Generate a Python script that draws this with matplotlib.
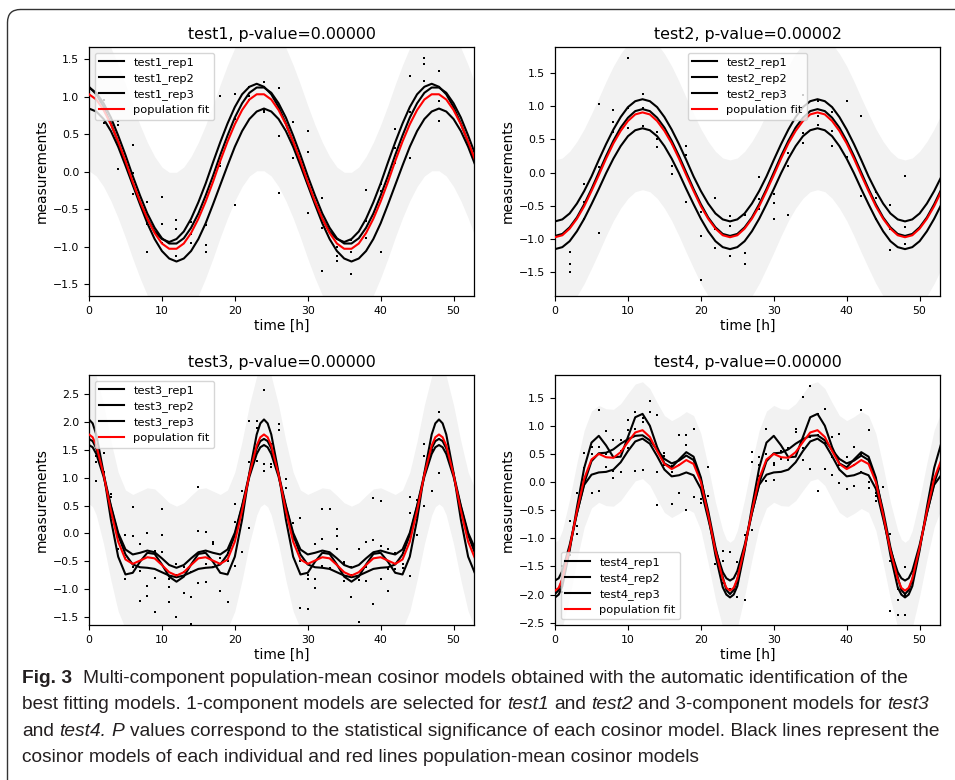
import numpy as np
import matplotlib
matplotlib.use('Agg')
import matplotlib.pyplot as plt
from matplotlib.patches import FancyBboxPatch
from matplotlib.transforms import IdentityTransform

hours = np.arange(54)
# test3/test4 have sharp peaks, so a few half hours are added around them
hours_fine = np.sort(np.concatenate([hours, [0.5, 23.5, 24.5, 47.5, 48.5]]))

# ---- test1 (1-component) ----
t1_rep1 = [1.13, 1.03, 0.86, 0.64, 0.39, 0.12, -0.16, -0.41, -0.63, -0.80, -0.90, -0.94,
           -0.90, -0.80, -0.63, -0.41, -0.16, 0.12, 0.39, 0.64, 0.86, 1.03, 1.13, 1.17,
           1.13, 1.03, 0.86, 0.64, 0.39, 0.12, -0.16, -0.41, -0.63, -0.80, -0.90, -0.94,
           -0.90, -0.80, -0.63, -0.41, -0.16, 0.12, 0.39, 0.64, 0.86, 1.03, 1.13, 1.17,
           1.13, 1.03, 0.86, 0.64, 0.39, 0.12]
t1_rep2 = [1.12, 1.05, 0.91, 0.72, 0.48, 0.22, -0.06, -0.32, -0.56, -0.75, -0.89, -0.96,
           -0.96, -0.89, -0.75, -0.56, -0.32, -0.06, 0.22, 0.48, 0.72, 0.91, 1.05, 1.12,
           1.12, 1.05, 0.91, 0.72, 0.48, 0.22, -0.06, -0.32, -0.56, -0.75, -0.89, -0.96,
           -0.96, -0.89, -0.75, -0.56, -0.32, -0.06, 0.22, 0.48, 0.72, 0.91, 1.05, 1.12,
           1.12, 1.05, 0.91, 0.72, 0.48, 0.22]
t1_rep3 = [0.84, 0.80, 0.70, 0.54, 0.33, 0.08, -0.18, -0.44, -0.69, -0.90, -1.06, -1.16,
           -1.20, -1.16, -1.06, -0.90, -0.69, -0.44, -0.18, 0.08, 0.33, 0.54, 0.70, 0.80,
           0.84, 0.80, 0.70, 0.54, 0.33, 0.08, -0.18, -0.44, -0.69, -0.90, -1.06, -1.16,
           -1.20, -1.16, -1.06, -0.90, -0.69, -0.44, -0.18, 0.08, 0.33, 0.54, 0.70, 0.80,
           0.84, 0.80, 0.70, 0.54, 0.33, 0.08]
t1_pop = [1.03, 0.96, 0.82, 0.63, 0.40, 0.14, -0.14, -0.40, -0.63, -0.82, -0.96, -1.03,
          -1.03, -0.96, -0.82, -0.63, -0.40, -0.14, 0.14, 0.40, 0.63, 0.82, 0.96, 1.03,
          1.03, 0.96, 0.82, 0.63, 0.40, 0.14, -0.14, -0.40, -0.63, -0.82, -0.96, -1.03,
          -1.03, -0.96, -0.82, -0.63, -0.40, -0.14, 0.14, 0.40, 0.63, 0.82, 0.96, 1.03,
          1.03, 0.96, 0.82, 0.63, 0.40, 0.14]
t1_pts_t = [0, 0, 0, 2, 2, 2, 4, 4, 4, 6, 6, 6, 8, 8, 8, 10, 10, 10, 12, 12, 12,
            14, 14, 14, 16, 16, 16, 18, 18, 18, 20, 20, 20, 22, 22, 22, 24, 24, 24,
            26, 26, 26, 28, 28, 28, 30, 30, 30, 32, 32, 32, 34, 34, 34, 36, 36, 36,
            38, 38, 38, 40, 40, 40, 42, 42, 42, 44, 44, 44, 46, 46, 46, 48, 48, 48]
t1_pts_y = [1.31, 1.13, 0.62, 0.96, 0.86, 0.65, 0.68, 0.62, 0.04, 0.36, -0.02, -0.30,
            -0.40, -0.70, -1.07, -0.34, -0.70, -0.95, -0.64, -0.77, -1.12,
            -0.67, -0.83, -0.95, -0.71, -0.98, -1.07, 1.01, 0.12, 0.08, 1.03, 0.70, -0.44,
            1.13, 1.01, 0.95, 1.20, 0.82, 0.80, 1.11, 0.48, -0.28, 0.66, 0.18, 0.40,
            0.54, 0.26, -0.55, -0.35, -0.75, -1.32, -1.12, -1.19, -1.00, -0.91, -1.07, -1.37,
            -0.24, -0.66, -0.88, -0.17, -0.26, -1.07, 0.57, 0.32, 0.12, 1.28, 0.18, 0.80,
            1.52, 1.44, 1.21, 1.34, 0.94, 0.67]

# ---- test2 (1-component) ----
t2_rep1 = [-0.74, -0.71, -0.62, -0.47, -0.28, -0.06, 0.19, 0.43, 0.65, 0.84, 0.99, 1.08,
           1.11, 1.08, 0.99, 0.84, 0.65, 0.43, 0.19, -0.06, -0.28, -0.47, -0.62, -0.71,
           -0.74, -0.71, -0.62, -0.47, -0.28, -0.06, 0.19, 0.43, 0.65, 0.84, 0.99, 1.08,
           1.11, 1.08, 0.99, 0.84, 0.65, 0.43, 0.19, -0.06, -0.28, -0.47, -0.62, -0.71,
           -0.74, -0.71, -0.62, -0.47, -0.28, -0.06]
t2_rep2 = [-0.96, -0.93, -0.83, -0.68, -0.48, -0.25, 0.00, 0.25, 0.48, 0.68, 0.83, 0.93,
           0.96, 0.93, 0.83, 0.68, 0.48, 0.25, 0.00, -0.25, -0.48, -0.68, -0.83, -0.93,
           -0.96, -0.93, -0.83, -0.68, -0.48, -0.25, 0.00, 0.25, 0.48, 0.68, 0.83, 0.93,
           0.96, 0.93, 0.83, 0.68, 0.48, 0.25, 0.00, -0.25, -0.48, -0.68, -0.83, -0.93,
           -0.96, -0.93, -0.83, -0.68, -0.48, -0.25]
t2_rep3 = [-1.16, -1.13, -1.04, -0.89, -0.70, -0.48, -0.25, -0.01, 0.21, 0.40, 0.55, 0.64,
           0.67, 0.64, 0.55, 0.40, 0.21, -0.01, -0.25, -0.48, -0.70, -0.89, -1.04, -1.13,
           -1.16, -1.13, -1.04, -0.89, -0.70, -0.48, -0.25, -0.01, 0.21, 0.40, 0.55, 0.64,
           0.67, 0.64, 0.55, 0.40, 0.21, -0.01, -0.25, -0.48, -0.70, -0.89, -1.04, -1.13,
           -1.16, -1.13, -1.04, -0.89, -0.70, -0.48]
t2_pop = [-0.98, -0.95, -0.85, -0.70, -0.51, -0.28, -0.04, 0.21, 0.44, 0.63, 0.78, 0.88,
          0.91, 0.88, 0.78, 0.63, 0.44, 0.21, -0.04, -0.28, -0.51, -0.70, -0.85, -0.95,
          -0.98, -0.95, -0.85, -0.70, -0.51, -0.28, -0.04, 0.21, 0.44, 0.63, 0.78, 0.88,
          0.91, 0.88, 0.78, 0.63, 0.44, 0.21, -0.04, -0.28, -0.51, -0.70, -0.85, -0.95,
          -0.98, -0.95, -0.85, -0.70, -0.51, -0.28]
t2_pts_t = t1_pts_t
t2_pts_y = [0.75, -0.13, -1.24, -1.21, -1.38, -1.51, -0.17, -0.45, -0.70, 1.03, 0.09, -0.91,
            0.95, 0.77, 0.61, 1.74, 0.97, 0.68, 1.19, 0.98, 0.70, 0.62, 0.50, 0.38,
            0.43, 0.10, -0.03, 0.40, 0.27, -0.45, -0.60, -0.96, -1.63, -0.38, -1.14, -0.85,
            -0.66, -0.81, -1.27, -0.64, -1.22, -1.38, -0.07, -0.55, -0.40, -0.33, -0.46, -0.71,
            -0.65, 0.10, 0.30, 1.17, 0.45, 0.60, 1.09, 0.86, 0.72, 0.63, 0.92, 0.40,
            1.09, 0.44, 0.24, 0.86, -0.03, -0.36, -0.38, -0.30, -0.70, -0.49, -1.17, -0.85,
            -0.05, -0.82, -1.09]

# ---- test3 (3-component), on hours_fine ----
t3_rep1 = [2.05, 1.98, 1.78, 1.09, 0.25, -0.42, -0.74, -0.71, -0.51, -0.35, -0.37, -0.56,
           -0.78, -0.87, -0.78, -0.56, -0.37, -0.35, -0.51, -0.71, -0.74, -0.42, 0.25, 1.09,
           1.78, 1.98,
           2.05, 1.98, 1.78, 1.09, 0.25, -0.42, -0.74, -0.71, -0.51, -0.35, -0.37, -0.56,
           -0.78, -0.87, -0.78, -0.56, -0.37, -0.35, -0.51, -0.71, -0.74, -0.42, 0.25, 1.09,
           1.78, 1.98,
           2.05, 1.98, 1.78, 1.09, 0.25, -0.42, -0.74]
t3_rep2 = [1.70, 1.66, 1.53, 1.07, 0.50, 0.01, -0.29, -0.38, -0.35, -0.31, -0.34, -0.45,
           -0.57, -0.62, -0.57, -0.45, -0.34, -0.31, -0.35, -0.38, -0.29, 0.01, 0.50, 1.07,
           1.53, 1.66,
           1.70, 1.66, 1.53, 1.07, 0.50, 0.01, -0.29, -0.38, -0.35, -0.31, -0.34, -0.45,
           -0.57, -0.62, -0.57, -0.45, -0.34, -0.31, -0.35, -0.38, -0.29, 0.01, 0.50, 1.07,
           1.53, 1.66,
           1.70, 1.66, 1.53, 1.07, 0.50, 0.01, -0.29]
t3_rep3 = [1.59, 1.55, 1.43, 1.02, 0.48, -0.03, -0.38, -0.56, -0.61, -0.62, -0.64, -0.70,
           -0.76, -0.79, -0.76, -0.70, -0.64, -0.62, -0.61, -0.56, -0.38, -0.03, 0.48, 1.02,
           1.43, 1.55,
           1.59, 1.55, 1.43, 1.02, 0.48, -0.03, -0.38, -0.56, -0.61, -0.62, -0.64, -0.70,
           -0.76, -0.79, -0.76, -0.70, -0.64, -0.62, -0.61, -0.56, -0.38, -0.03, 0.48, 1.02,
           1.43, 1.55,
           1.59, 1.55, 1.43, 1.02, 0.48, -0.03, -0.38]
t3_pop = [1.78, 1.73, 1.58, 1.06, 0.41, -0.15, -0.47, -0.55, -0.49, -0.43, -0.45, -0.57,
          -0.70, -0.76, -0.70, -0.57, -0.45, -0.43, -0.49, -0.55, -0.47, -0.15, 0.41, 1.06,
          1.58, 1.73,
          1.78, 1.73, 1.58, 1.06, 0.41, -0.15, -0.47, -0.55, -0.49, -0.43, -0.45, -0.57,
          -0.70, -0.76, -0.70, -0.57, -0.45, -0.43, -0.49, -0.55, -0.47, -0.15, 0.41, 1.06,
          1.58, 1.73,
          1.78, 1.73, 1.58, 1.06, 0.41, -0.15, -0.47]
t3_pts_t = [0, 0, 0, 1, 1, 1, 2, 2, 3, 3, 3, 4, 4, 5, 5, 5, 6, 6, 6, 7, 7, 7, 8, 8, 8,
            9, 9, 9, 10, 10, 10, 11, 11, 11, 12, 12, 12, 13, 13, 13, 14, 14, 14,
            15, 15, 15, 16, 16, 16, 17, 17, 17, 18, 18, 19, 19, 19, 20, 20, 20,
            21, 21, 21, 22, 22, 22, 23, 23, 23, 24, 24, 24, 25, 25, 25, 26, 26, 26,
            27, 27, 27, 28, 28, 29, 29, 29, 30, 30, 30, 31, 31, 31, 32, 32, 32,
            33, 33, 33, 34, 34, 34, 35, 35, 35, 36, 36, 36, 37, 37, 37, 38, 38, 38,
            39, 39, 39, 40, 40, 40, 41, 41, 41, 42, 42, 43, 43, 43, 44, 44, 44,
            45, 45, 45, 46, 46, 46, 47, 47, 48, 48, 48]
t3_pts_y = [1.44, 1.72, 1.60, 1.40, 1.28, 0.95, 1.44, 1.10, 0.71, 0.66, 0.30, -0.28, -0.05,
            -0.03, -0.82, -0.45, 0.48, -0.05, -0.60, -0.19, -0.67, -1.22, 0.00, -0.94, -1.12,
            -0.31, -0.81, -1.41, 0.43, -0.03, -0.34, -0.82, -0.96, -1.23, -0.55, -1.50, -0.75,
            -0.69, -1.07, -0.60, -1.14, -1.63, -0.70, 0.83, 0.05, -0.90, 0.02, -0.88, -0.55,
            -0.16, -0.20, -0.60, -1.03, -0.45, -1.23, -0.50, -0.35, 0.52, 0.20, -0.58,
            0.76, 0.34, -0.33, 2.03, 1.29, 0.09, 2.03, 1.89, 1.30, 2.58, 1.24, 1.12,
            1.25, 1.19, 1.60, 1.96, 1.86, 1.00, 0.97, 0.81, 0.50, 0.18, -0.10,
            0.27, -1.34, -0.50, -0.82, -1.37, -0.75, -0.20, -0.82, -0.98, 0.44, -0.11, -0.59,
            0.44, -0.62, -0.65, 0.08, -0.04, -0.28, -0.51, -0.86, -0.55, -0.60, -1.15, -0.75,
            -0.28, -0.84, -1.60, -0.16, -0.86, -0.60, 0.63, -0.12, -1.27, 0.58, -0.22, -0.82,
            -0.28, -0.65, -1.03, -0.36, -0.65, -0.35, -0.55, -0.62, 0.66, 0.37, -0.76,
            0.60, -0.03, 0.30, 1.61, 1.39, 0.50, 0.77, 1.50, 2.19, 1.08, 1.70]

# ---- test4 (3-component), on hours_fine ----
t4_rep1 = [-2.05, -2.00, -1.85, -1.22, -0.45, 0.25, 0.70, 0.82, 0.65, 0.44, 0.45, 0.80,
           1.15, 1.21, 1.00, 0.62, 0.33, 0.26, 0.40, 0.53, 0.45, 0.08, -0.58, -1.30,
           -1.87, -2.00,
           -2.05, -2.00, -1.85, -1.22, -0.45, 0.25, 0.70, 0.82, 0.65, 0.44, 0.45, 0.80,
           1.15, 1.21, 1.00, 0.62, 0.33, 0.26, 0.40, 0.53, 0.45, 0.08, -0.58, -1.30,
           -1.87, -2.00,
           -2.05, -2.00, -1.85, -1.22, -0.45, 0.25, 0.70]
t4_rep2 = [-1.99, -1.92, -1.73, -1.17, -0.56, -0.02, 0.37, 0.51, 0.52, 0.58, 0.68, 0.76,
           0.82, 0.83, 0.74, 0.57, 0.41, 0.33, 0.38, 0.47, 0.39, 0.04, -0.51, -1.16,
           -1.69, -1.92,
           -1.99, -1.92, -1.73, -1.17, -0.56, -0.02, 0.37, 0.51, 0.52, 0.58, 0.68, 0.76,
           0.82, 0.83, 0.74, 0.57, 0.41, 0.33, 0.38, 0.47, 0.39, 0.04, -0.51, -1.16,
           -1.69, -1.92,
           -1.99, -1.92, -1.73, -1.17, -0.56, -0.02, 0.37]
t4_rep3 = [-1.75, -1.71, -1.58, -1.12, -0.55, -0.05, 0.13, 0.17, 0.18, 0.22, 0.35, 0.55,
           0.72, 0.77, 0.68, 0.46, 0.22, 0.10, 0.12, 0.17, 0.12, -0.12, -0.65, -1.20,
           -1.60, -1.71,
           -1.75, -1.71, -1.58, -1.12, -0.55, -0.05, 0.13, 0.17, 0.18, 0.22, 0.35, 0.55,
           0.72, 0.77, 0.68, 0.46, 0.22, 0.10, 0.12, 0.17, 0.12, -0.12, -0.65, -1.20,
           -1.60, -1.71,
           -1.75, -1.71, -1.58, -1.12, -0.55, -0.05, 0.13]
t4_pop = [-1.93, -1.88, -1.72, -1.17, -0.52, 0.06, 0.40, 0.50, 0.44, 0.43, 0.53, 0.71,
          0.88, 0.92, 0.80, 0.55, 0.32, 0.23, 0.30, 0.39, 0.32, 0.00, -0.58, -1.22,
          -1.72, -1.88,
          -1.93, -1.88, -1.72, -1.17, -0.52, 0.06, 0.40, 0.50, 0.44, 0.43, 0.53, 0.71,
          0.88, 0.92, 0.80, 0.55, 0.32, 0.23, 0.30, 0.39, 0.32, 0.00, -0.58, -1.22,
          -1.72, -1.88,
          -1.93, -1.88, -1.72, -1.17, -0.52, 0.06, 0.40]
t4_pts_t = [0, 0, 0, 1, 1, 2, 2, 2, 3, 3, 3, 4, 4, 4, 5, 5, 5, 6, 6, 6, 7, 7, 7, 8, 8, 8,
            9, 9, 9, 10, 10, 10, 11, 11, 11, 12, 12, 12, 13, 13, 13, 14, 14, 14,
            15, 15, 15, 16, 16, 16, 17, 17, 17, 18, 18, 18, 19, 19, 19, 20, 20, 20,
            21, 21, 21, 22, 22, 23, 23, 23, 24, 24, 24, 25, 25, 25, 26, 26, 26,
            27, 27, 27, 28, 28, 28, 29, 29, 29, 30, 30, 30, 31, 31, 32, 32, 32,
            33, 33, 33, 34, 34, 34, 35, 35, 35, 36, 36, 36, 37, 37, 37, 38, 38, 38,
            39, 39, 39, 40, 40, 40, 41, 41, 41, 42, 42, 42, 43, 43, 43, 44, 44, 44,
            45, 45, 46, 46, 46, 47, 47, 47, 48, 48, 48]
t4_pts_y = [-1.25, -1.70, -2.17, -1.50, -1.95, -0.70, -1.10, -1.30, -0.79, -0.93, -0.20,
            0.52, -0.06, 0.25, 0.62, -0.19, 0.50, 1.27, 0.62, -0.16, 0.91, 0.26, 0.50,
            0.75, 0.19, 0.07, 0.74, 0.17, 0.55, 1.11, 0.92, 0.60, 1.25, 0.19, 0.95,
            1.14, 1.07, 0.21, 1.44, 1.24, 0.75, 1.19, 0.18, -0.41, 0.52, 0.46, 0.30,
            0.17, -0.39, 0.28, 0.84, -0.20, 0.30, 0.84, 0.66, -0.50, 0.94, -0.27, 0.40,
            -0.30, -0.37, 0.05, 0.26, -0.24, -0.60, -1.20, -1.45, -1.22, -1.41, -1.80,
            -1.24, -1.90, -2.05, -1.42, -2.04, -1.80, -2.10, -0.95, -1.10,
            0.53, 0.35, -0.85, 0.45, 0.10, 0.30, 0.94, 0.02, 0.50, 0.34, 0.03, 0.30,
            0.55, 0.40, 0.39, 0.60, 0.45, 0.95, 0.89, 0.53, 1.51, 0.39, 0.60,
            1.71, 0.23, 0.80, 0.84, -0.16, 1.20, 1.29, 0.23, 0.70, 0.80, 0.12, 0.45,
            0.85, -0.02, 0.30, 0.45, -0.13, 0.25, 0.62, -0.07, 0.30, 1.27, 0.18, 0.50,
            0.92, -0.10, 0.00, -0.25, -0.34, -0.20, -0.08, -0.60, -0.93, -2.29, -1.40,
            -2.10, -2.37, -1.90, -1.51, -2.37, -2.00]

# half width of the grey band around the population fit
band_half = [1.02, 1.17, 1.25, 0.86]
p_values = ['0.00000', '0.00002', '0.00000', '0.00000']
ylims = [(-1.66, 1.66), (-1.87, 1.90), (-1.65, 2.85), (-2.54, 1.90)]
yticks = [np.arange(-1.5, 1.6, 0.5), np.arange(-1.5, 1.6, 0.5),
          np.arange(-1.5, 2.6, 0.5), np.arange(-2.5, 1.6, 0.5)]
legend_loc = ['upper left', 'upper center', 'upper left', 'lower left']

times = [hours, hours, hours_fine, hours_fine]
reps = [(t1_rep1, t1_rep2, t1_rep3), (t2_rep1, t2_rep2, t2_rep3),
        (t3_rep1, t3_rep2, t3_rep3), (t4_rep1, t4_rep2, t4_rep3)]
pops = [t1_pop, t2_pop, t3_pop, t4_pop]
pts = [(t1_pts_t, t1_pts_y), (t2_pts_t, t2_pts_y), (t3_pts_t, t3_pts_y), (t4_pts_t, t4_pts_y)]

fig = plt.figure(figsize=(9.55, 7.8), dpi=100)

# axes rectangles, in figure fractions (left, bottom, width, height)
rects = [[0.0932, 0.6205, 0.4031, 0.3192], [0.5812, 0.6205, 0.4031, 0.3192],
         [0.0932, 0.1987, 0.4031, 0.3205], [0.5812, 0.1987, 0.4031, 0.3205]]

for i in range(4):
    ax = fig.add_axes(rects[i])
    name = 'test%d' % (i + 1)
    x = times[i]
    pop = np.array(pops[i])
    ax.fill_between(x, pop - band_half[i], pop + band_half[i], color='#f2f2f2',
                    lw=0, zorder=1)
    ax.plot(pts[i][0], pts[i][1], 's', color='k', ms=1.7, mew=0, zorder=2)
    for j in range(3):
        ax.plot(x, reps[i][j], color='k', lw=1.5, zorder=3,
                label='%s_rep%d' % (name, j + 1))
    ax.plot(x, pop, color='red', lw=1.5, zorder=4, label='population fit')

    ax.set_xlim(0, 52.8)
    ax.set_ylim(ylims[i])
    ax.set_xticks([0, 10, 20, 30, 40, 50])
    ax.set_yticks(yticks[i])
    ax.tick_params(labelsize=7.8, width=0.8, length=3.5)
    for sp in ax.spines.values():
        sp.set_linewidth(0.9)
    ax.set_title('%s, p-value=%s' % (name, p_values[i]), fontsize=11.4)
    ax.set_xlabel('time [h]', fontsize=10, labelpad=2)
    ax.set_ylabel('measurements', fontsize=10, labelpad=3)
    ax.legend(loc=legend_loc[i], fontsize=8.2, handlelength=2.2, labelspacing=0.45,
              borderpad=0.4, framealpha=0.8)

# frame around the whole figure, cut off at right and bottom
frame = FancyBboxPatch((7.5, -60), 1000, 780 - 9.5 + 60,
                       boxstyle='round,pad=0,rounding_size=13',
                       transform=IdentityTransform(), fill=False,
                       edgecolor='#333333', lw=1.0)
fig.add_artist(frame)

# caption with mixed bold / italic pieces
cap_family = ['Liberation Sans', 'DejaVu Sans']
cap_color = '#231f20'
renderer = fig.canvas.get_renderer()

caption = [
    [('Fig. 3', 'bold', 'normal'),
     ('  Multi-component population-mean cosinor models obtained with the automatic identification of the',
      'normal', 'normal')],
    [('best fitting models. 1-component models are selected for ', 'normal', 'normal'),
     ('test1', 'normal', 'italic'), (' and ', 'normal', 'normal'),
     ('test2', 'normal', 'italic'), (' and 3-component models for ', 'normal', 'normal'),
     ('test3', 'normal', 'italic')],
    [('and ', 'normal', 'normal'), ('test4.', 'normal', 'italic'), (' ', 'normal', 'normal'),
     ('P', 'normal', 'italic'),
     (' values correspond to the statistical significance of each cosinor model. Black lines represent the',
      'normal', 'normal')],
    [('cosinor models of each individual and red lines population-mean cosinor models',
      'normal', 'normal')],
]
baselines = [97, 71, 44, 18]


def piece_width(s, size, weight, style):
    t = fig.text(0, 0, s, fontsize=size, family=cap_family, weight=weight, style=style)
    w = t.get_window_extent(renderer).width
    t.remove()
    return w


def space_width(size):
    return piece_width('x x', size, 'normal', 'normal') - piece_width('xx', size, 'normal', 'normal')


def line_width(parts, size):
    sp = space_width(size)
    w = 0
    for s, weight, style in parts:
        core = s.strip(' ')
        w += (len(s) - len(core)) * sp
        if core:
            w += piece_width(core, size, weight, style)
    return w


# one font size for the whole caption, the widest line fills the frame
base_size = 12.5
cap_size = min(base_size * 923.0 / line_width(p, base_size) for p in caption)
sp = space_width(cap_size)

for parts, yb in zip(caption, baselines):
    x = 22
    for s, weight, style in parts:
        core = s.strip(' ')
        if not core:            # a piece made of spaces only
            x += len(s) * sp
            continue
        x += (len(s) - len(s.lstrip(' '))) * sp
        t = fig.text(x, yb, core, transform=IdentityTransform(), fontsize=cap_size,
                     family=cap_family, weight=weight, style=style, color=cap_color,
                     va='baseline')
        x += t.get_window_extent(renderer).width
        x += (len(s) - len(s.rstrip(' '))) * sp

fig.savefig('out.png', dpi=100)
